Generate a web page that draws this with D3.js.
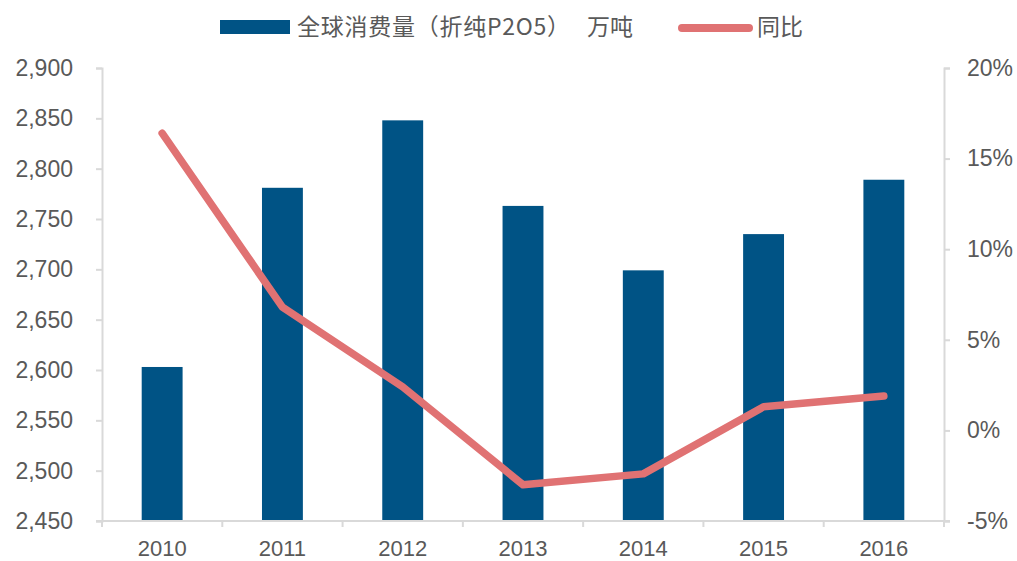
<!DOCTYPE html>
<html>
<head>
<meta charset="utf-8">
<script src="https://d3js.org/d3.v7.min.js"></script>
<style>
  body { margin: 0; background: #fff; }
  svg text { font-family: "Liberation Sans", Arial, sans-serif; fill: #595959; }
  .legend text { font-family: "Noto Sans CJK SC", sans-serif; }
</style>
</head>
<body>
<svg id="chart"></svg>
<script>
// data
var years = ["2010", "2011", "2012", "2013", "2014", "2015", "2016"];
var consumption = [2603, 2781, 2848, 2763, 2699, 2735, 2789];
var yoy = [16.4, 6.8, 2.4, -3.0, -2.4, 1.3, 1.9];
var leftTicks = [2450, 2500, 2550, 2600, 2650, 2700, 2750, 2800, 2850, 2900];
var rightTicks = [-5, 0, 5, 10, 15, 20];

var W = 1017, H = 561;
var plotL = 102, plotR = 944, plotT = 68, plotB = 521;
var svg = d3.select("#chart").attr("width", W).attr("height", H);

var x = d3.scaleBand().domain(years).range([plotL, plotR]).paddingInner(0.66).paddingOuter(0.33);
var band = d3.scaleBand().domain(years).range([plotL, plotR]);
var y = d3.scaleLinear().domain([2450, 2900]).range([plotB, plotT]);
var y2 = d3.scaleLinear().domain([-5, 20]).range([plotB, plotT]);

var axisColor = "#d9d9d9";

// bars
svg.selectAll("rect.bar").data(years).enter().append("rect")
  .attr("class", "bar")
  .attr("x", function(d) { return x(d); })
  .attr("width", x.bandwidth())
  .attr("y", function(d, i) { return y(consumption[i]); })
  .attr("height", function(d, i) { return plotB - y(consumption[i]); })
  .attr("fill", "#005385");

// left axis
var gl = svg.append("g").attr("transform", "translate(" + plotL + ",0)")
  .call(d3.axisLeft(y).tickValues(leftTicks).tickFormat(d3.format(",")).tickSize(6).tickPadding(23));
// right axis
var gr = svg.append("g").attr("transform", "translate(" + plotR + ",0)")
  .call(d3.axisRight(y2).tickValues(rightTicks).tickFormat(function(d) { return d + "%"; }).tickSize(6).tickPadding(17));
// bottom axis, ticks between categories
var gb = svg.append("g").attr("transform", "translate(0," + plotB + ")")
  .call(d3.axisBottom(band).tickSize(0).tickPadding(19));
gb.selectAll(".tick").append("line")
  .attr("x1", -band.bandwidth() / 2).attr("x2", -band.bandwidth() / 2)
  .attr("y1", 0).attr("y2", 6);
gb.append("line")
  .attr("x1", plotR).attr("x2", plotR).attr("y1", 0).attr("y2", 6);
gb.select(".domain").attr("d", "M" + (plotL - 6) + ",0H" + (plotR + 6));

[gl, gr, gb].forEach(function(g) {
  g.select(".domain").attr("stroke", axisColor).attr("stroke-width", 2);
  g.selectAll("line").attr("stroke", axisColor).attr("stroke-width", 2);
  g.selectAll("text").attr("font-size", 23).style("font-family", null);
});
gb.selectAll("text").attr("font-size", 22);

// line
var line = d3.line()
  .x(function(d, i) { return band(years[i]) + band.bandwidth() / 2; })
  .y(function(d) { return y2(d); });
svg.append("path").datum(yoy)
  .attr("d", line)
  .attr("fill", "none")
  .attr("stroke", "#e07273")
  .attr("stroke-width", 7.5)
  .attr("stroke-linecap", "round")
  .attr("stroke-linejoin", "round");

// legend
var lg = svg.append("g").attr("class", "legend");
lg.append("rect").attr("x", 220).attr("y", 20).attr("width", 70).attr("height", 14).attr("fill", "#005385");
lg.append("text").attr("x", 297).attr("y", 35).attr("font-size", 23)
  .attr("textLength", 273).attr("lengthAdjust", "spacing")
  .text("全球消费量（折纯P2O5）");
lg.append("text").attr("x", 587).attr("y", 35).attr("font-size", 23).text("万吨");
lg.append("line").attr("x1", 682).attr("x2", 749).attr("y1", 28).attr("y2", 28)
  .attr("stroke", "#e07273").attr("stroke-width", 8).attr("stroke-linecap", "round");
lg.append("text").attr("x", 757).attr("y", 35).attr("font-size", 23).text("同比");
</script>
</body>
</html>
